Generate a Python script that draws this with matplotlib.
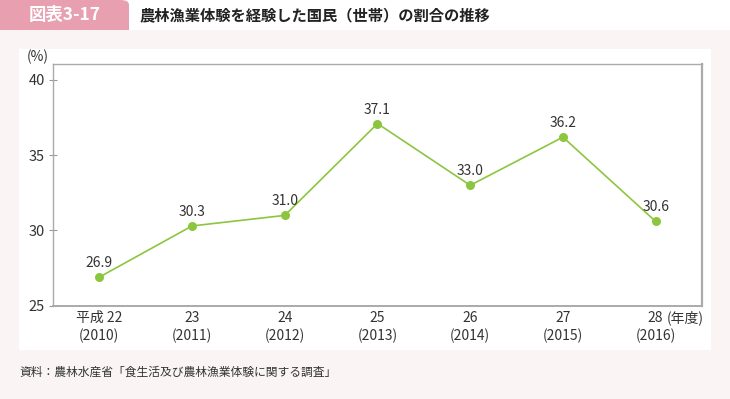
import matplotlib.pyplot as plt
from matplotlib.patches import Rectangle, FancyBboxPatch

plt.rcParams['font.family'] = ['Noto Sans CJK JP', 'DejaVu Sans']

# data
years_jp = ['平成 22', '23', '24', '25', '26', '27', '28']
years_ad = ['(2010)', '(2011)', '(2012)', '(2013)', '(2014)', '(2015)', '(2016)']
share = [26.9, 30.3, 31.0, 37.1, 33.0, 36.2, 30.6]
y_ticks = [25, 30, 35, 40]

W, H = 730, 399
fig = plt.figure(figsize=(W / 100, H / 100), dpi=100)
fig.patch.set_facecolor('white')

def fx(px):
    return px / W

def fy(py):
    return 1 - py / H

# header tab (only top-right corner rounded)
tab = FancyBboxPatch((fx(-20), fy(60)), fx(149), fy(0) - fy(60),
                     boxstyle='round,pad=0,rounding_size=0.012',
                     transform=fig.transFigure, facecolor='#e8a0b0',
                     edgecolor='none', zorder=0)
fig.patches.append(tab)
# pale pink background below the header
fig.patches.append(Rectangle((0, 0), 1, fy(30), transform=fig.transFigure,
                             facecolor='#fbf4f4', edgecolor='none', zorder=1))
# white chart panel
fig.patches.append(Rectangle((fx(19), fy(350)), fx(711) - fx(19), fy(49) - fy(350),
                             transform=fig.transFigure, facecolor='white',
                             edgecolor='none', zorder=2))

fig.text(fx(65), fy(15), '図表3-17', color='white', fontsize=12.5,
         fontweight='bold', ha='center', va='center', zorder=5)
fig.text(fx(140), fy(15), '農林漁業体験を経験した国民（世帯）の割合の推移',
         color='#222222', fontsize=11, fontweight='bold', ha='left',
         va='center', zorder=5)

ax = fig.add_axes([fx(53), fy(305.7), fx(702) - fx(53), fy(64) - fy(305.7)])
ax.set_facecolor('white')
ax.set_zorder(3)

x = list(range(len(share)))
ax.plot(x, share, color='#8cc63f', lw=1.2, marker='o', ms=6.5,
        markeredgewidth=0, clip_on=False)
for xi, v in zip(x, share):
    ax.annotate(f'{v:.1f}', (xi, v), xytext=(0, 5), textcoords='offset points',
                ha='center', va='bottom', fontsize=10, color='#333333')

ax.set_xlim(-0.5, 6.5)
ax.set_ylim(25, 41.06)
ax.set_yticks(y_ticks)
ax.set_yticklabels([str(t) for t in y_ticks], fontsize=10.5, color='#333333')
ax.tick_params(axis='y', direction='inout', length=6, width=0.8,
               color='#999999', pad=3)
ax.set_xticks(x)
ax.set_xticklabels([])
ax.tick_params(axis='x', length=0)

# two-row category labels
for xi, a, b in zip(x, years_jp, years_ad):
    ax.annotate(a, (xi, 0), xycoords=('data', 'axes fraction'),
                xytext=(0, -9), textcoords='offset points',
                ha='center', va='center', fontsize=10, color='#333333')
    ax.annotate(b, (xi, 0), xycoords=('data', 'axes fraction'),
                xytext=(0, -21.5), textcoords='offset points',
                ha='center', va='center', fontsize=10, color='#333333')
ax.annotate('(年度)', (x[-1], 0), xycoords=('data', 'axes fraction'),
            xytext=(8, -9), textcoords='offset points',
            ha='left', va='center', fontsize=10, color='#333333')

for side in ['left', 'bottom', 'top', 'right']:
    ax.spines[side].set_color('#aaaaaa')
    ax.spines[side].set_linewidth(1.0)
ax.spines['right'].set_linewidth(1.6)
ax.spines['bottom'].set_linewidth(1.4)

fig.text(fx(38), fy(64), '(%)', ha='center', va='bottom', fontsize=10,
         color='#333333', zorder=5)

fig.text(fx(19), fy(372), '資料：農林水産省「食生活及び農林漁業体験に関する調査」',
         ha='left', va='center', fontsize=8.5, color='#333333', zorder=5)

fig.savefig('out.png', dpi=100, facecolor=fig.get_facecolor())
